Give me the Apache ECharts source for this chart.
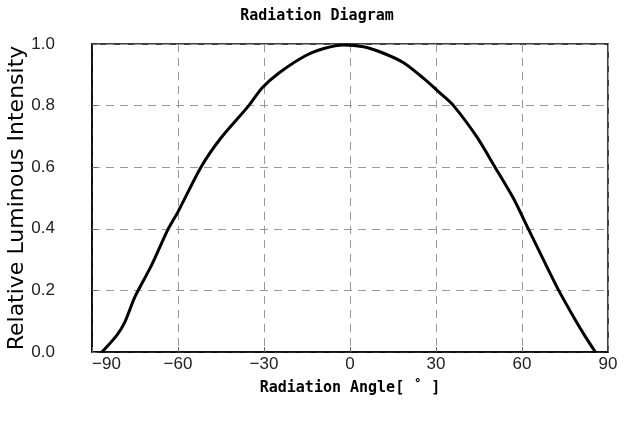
<!DOCTYPE html>
<html>
<head>
<meta charset="utf-8">
<script src="https://cdn.jsdelivr.net/npm/echarts@6/dist/echarts.min.js"></script>
<style>html,body{margin:0;padding:0;background:#fff}#c{width:634px;height:436px}</style>
</head>
<body>
<div id="c"></div>
<script>
var angles = [-86.5, -81.3, -78.5, -75.0, -69.2, -63.5, -60.0, -52.0, -45.1, -35.3, -30.7, -24.9, -15.7, -8.8, -2.3, 4.7, 11.7, 18.7, 25.6, 31.5, 36.1, 44.2, 50.6, 57.0, 62.3, 67.5, 72.8, 78.6, 82.1, 85.6];
var intensity = [0.0, 0.055, 0.098, 0.18, 0.282, 0.398, 0.455, 0.60, 0.694, 0.80, 0.857, 0.905, 0.961, 0.986, 0.997, 0.991, 0.97, 0.939, 0.889, 0.84, 0.80, 0.699, 0.60, 0.499, 0.398, 0.299, 0.20, 0.104, 0.05, 0.0];
var xTicks = [-90, -60, -30, 0, 30, 60, 90];
var yTicks = [0.0, 0.2, 0.4, 0.6, 0.8, 1.0];

var pts = angles.map(function (a, i) { return [a, intensity[i]]; });
var chart = echarts.init(document.getElementById('c'), null, {renderer: 'canvas'});
chart.setOption({
  animation: false,
  backgroundColor: '#fff',
  title: {
    text: 'Radiation Diagram', left: 'center', top: 4,
    textStyle: {fontFamily: 'DejaVu Sans Mono', fontSize: 15, fontWeight: 'bold', color: '#000'}
  },
  grid: {left: 92, right: 26, top: 44, bottom: 84, outerBoundsMode: 'none', containLabel: false,
    show: true, borderColor: '#000', borderWidth: 1.5, backgroundColor: 'transparent'},
  xAxis: {
    type: 'value', min: xTicks[0], max: xTicks[xTicks.length - 1], interval: 30,
    name: 'Radiation Angle[ ˚ ]', nameLocation: 'middle', nameGap: 29, nameMoveOverlap: false,
    nameTextStyle: {fontFamily: 'DejaVu Sans Mono', fontSize: 15, fontWeight: 'bold', color: '#000'},
    axisLine: {show: true, onZero: false, lineStyle: {color: '#000', width: 1.5}},
    axisTick: {show: true, inside: true, length: 5, lineStyle: {color: '#666'}},
    axisLabel: {fontFamily: 'Liberation Sans', fontSize: 17, color: '#222', margin: 4, alignMinLabel: 'left',
      formatter: function (v) { return v < 0 ? '\u2212' + Math.abs(v) : String(v); }},
    splitLine: {show: true, lineStyle: {color: '#999', type: [8, 6], width: 1}}
  },
  yAxis: {
    type: 'value', min: yTicks[0], max: yTicks[yTicks.length - 1], interval: 0.2,
    name: 'Relative Luminous Intensity', nameLocation: 'middle', nameGap: 64, nameRotate: 90, nameMoveOverlap: false,
    nameTextStyle: {fontFamily: 'DejaVu Sans', fontSize: 22, color: '#000'},
    axisLine: {show: true, onZero: false, lineStyle: {color: '#000', width: 1.5}},
    axisTick: {show: true, inside: true, length: 5, lineStyle: {color: '#666'}},
    axisLabel: {fontFamily: 'Liberation Sans', fontSize: 17, color: '#222', margin: 37,
      formatter: function (v) { return v.toFixed(1); }},
    splitLine: {show: true, lineStyle: {color: '#999', type: [8, 6], width: 1}}
  },
  series: [{
    type: 'line', data: pts, smooth: 0.25, showSymbol: false,
    lineStyle: {color: '#000', width: 3}
  }]
});
</script>
</body>
</html>
